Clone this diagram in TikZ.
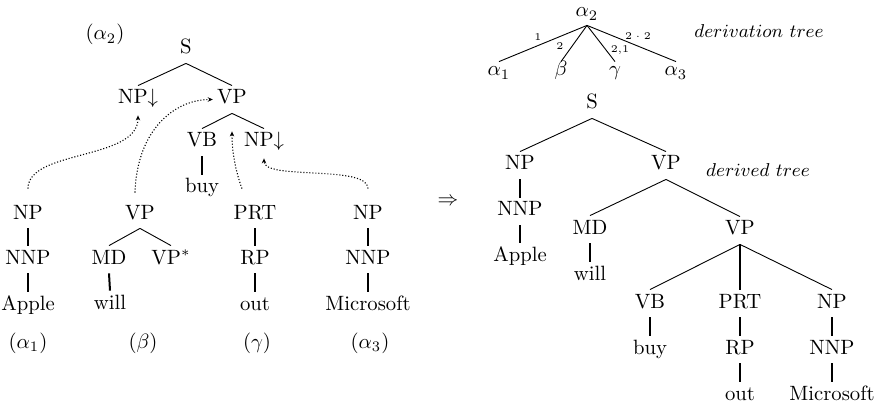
\documentclass[tikz,border=0pt]{standalone}
\usetikzlibrary{arrows.meta}
\tikzset{
  tn/.style={scale=2.07, inner sep=0pt, text height=8.7pt, text depth=4.35pt, anchor=base},
  dn/.style={scale=2.07, inner sep=0pt, text height=6.76pt, text depth=3.86pt, anchor=base},
  lab/.style={scale=2.07, inner sep=0pt, anchor=base},
  el/.style={scale=2.07, font=\tiny, inner sep=0pt},
  it/.style={scale=2.07, font=\small, inner sep=0pt, anchor=base},
  diag/.style={line width=0.9pt},
  vert/.style={line width=2pt},
  darr/.style={line width=1.1pt, dash pattern=on 1.1pt off 1.9pt, -{Stealth[length=5pt,width=4.5pt]}}
}
\begin{document}
\begin{tikzpicture}[x=1pt,y=-1pt]
\useasboundingbox (0,0) rectangle (877,403);
% ---- alpha2 elementary tree
\node[lab] (a2lab) at (105,40) {$(\alpha_2)$};
\node[tn] (aS) at (186,54) {S};
\node[tn] (aNP) at (138,104) {NP$\downarrow$};
\node[tn] (aVP) at (232,104) {VP};
\node[tn] (aVB) at (202,147) {VB};
\node[tn] (aNP2) at (264,147) {NP$\downarrow$};
\node[tn] (abuy) at (202,193) {buy};
\draw[diag] (aS.south) -- (aNP.north);
\draw[diag] (aS.south) -- (aVP.north);
\draw[diag] (aVP.south) -- (aVB.north);
\draw[diag] (aVP.south) -- (aNP2.north);
\draw[vert] (aVB.south) -- (abuy.north);
% ---- alpha1
\node[tn] (b1NP) at (28,219) {NP};
\node[tn] (b1NNP) at (28,264) {NNP};
\node[tn] (b1W) at (28,310) {Apple};
\node[lab] (l1) at (28,348) {$(\alpha_1)$};
\draw[vert] (b1NP.south) -- (b1NNP.north);
\draw[vert] (b1NNP.south) -- (b1W.north);
% ---- beta
\node[tn] (bVP) at (140,219) {VP};
\node[tn] (bMD) at (109,264) {MD};
\node[tn] (bVPs) at (171,264) {VP$^*$};
\node[tn] (bW) at (110,309) {will};
\node[lab] (l2) at (143,348) {$(\beta)$};
\draw[diag] (bVP.south) -- (bMD.north);
\draw[diag] (bVP.south) -- (bVPs.north);
\draw[vert] (bMD.south) -- (bW.north);
% ---- gamma
\node[tn] (cPRT) at (255,219) {PRT};
\node[tn] (cRP) at (255,264) {RP};
\node[tn] (cW) at (255,310) {out};
\node[lab] (l3) at (257,348) {$(\gamma)$};
\draw[vert] (cPRT.south) -- (cRP.north);
\draw[vert] (cRP.south) -- (cW.north);
% ---- alpha3
\node[tn] (dNP) at (368,219) {NP};
\node[tn] (dNNP) at (368,264) {NNP};
\node[tn] (dW) at (368,310) {Microsoft};
\node[lab] (l4) at (370,348) {$(\alpha_3)$};
\draw[vert] (dNP.south) -- (dNNP.north);
\draw[vert] (dNNP.south) -- (dW.north);
% ---- dotted substitution / adjunction arrows
\draw[darr] ([yshift=12pt]b1NP.north) .. controls +(0,-39) and +(0,45) .. ([yshift=-2pt]aNP.south);
\draw[darr] ([xshift=-5pt,yshift=8pt]bVP.north) .. controls +(2,-63) and +(-38,0) .. ([xshift=-4pt]aVP.west);
\draw[darr] ([xshift=-13pt,yshift=12pt]cPRT.north) .. controls +(-7,-19) and +(0,19) .. ([yshift=-18pt]aVP.south);
\draw[darr] ([yshift=12pt]dNP.north) .. controls +(0,-24) and +(0,22) .. ([yshift=-2pt]aNP2.south);
% ---- arrow
\node[scale=2.07, inner sep=0pt] (imp) at (448,202) {$\Rightarrow$};
% ---- derivation tree
\node[dn] (rA2) at (587,17) {$\alpha_2$};
\node[dn] (rA1) at (499,76) {$\alpha_1$};
\node[dn] (rB) at (561,76) {$\beta$};
\node[dn] (rG) at (615,76) {$\gamma$};
\node[dn] (rA3) at (676,76) {$\alpha_3$};
\draw[diag] (rA2.south) -- (rA1.north);
\draw[diag] (rA2.south) -- (rB.north);
\draw[diag] (rA2.south) -- (rG.north);
\draw[diag] (rA2.south) -- (rA3.north);
\node[el] (e1) at (538,37) {1};
\node[el] (e2) at (560,46) {2};
\node[el] (e3) at (620,50) {2,1};
\node[el] (e4) at (638,36) {$2\cdot 2$};
\node[it] (dtl) at (759,38) {$derivation\ tree$};
% ---- derived tree
\node[tn] (rS) at (592,109) {S};
\node[tn] (rNP) at (520,170) {NP};
\node[tn] (rVP) at (666,170) {VP};
\node[tn] (rNNP) at (520,216) {NNP};
\node[tn] (rApple) at (520,261) {Apple};
\node[tn] (rMD) at (590,234) {MD};
\node[tn] (rVP2) at (740,235) {VP};
\node[tn] (rwill) at (590,280) {will};
\node[tn] (rVB) at (650,308) {VB};
\node[tn] (rPRT) at (740,308) {PRT};
\node[tn] (rNP3) at (832,308) {NP};
\node[tn] (rbuy) at (650,354) {buy};
\node[tn] (rRP) at (740,354) {RP};
\node[tn] (rNNP3) at (832,354) {NNP};
\node[tn] (rout) at (740,400) {out};
\node[tn] (rMS) at (832,400) {Microsoft};
\node[it] (dvl) at (758,177) {$derived\ tree$};
\draw[diag] (rS.south) -- (rNP.north);
\draw[diag] (rS.south) -- (rVP.north);
\draw[vert] (rNP.south) -- (rNNP.north);
\draw[vert] (rNNP.south) -- (rApple.north);
\draw[diag] (rVP.south) -- (rMD.north);
\draw[diag] (rVP.south) -- (rVP2.north);
\draw[vert] (rMD.south) -- (rwill.north);
\draw[diag] (rVP2.south) -- (rVB.north);
\draw[vert] (rVP2.south) -- (rPRT.north);
\draw[diag] (rVP2.south) -- (rNP3.north);
\draw[vert] (rVB.south) -- (rbuy.north);
\draw[vert] (rPRT.south) -- (rRP.north);
\draw[vert] (rNP3.south) -- (rNNP3.north);
\draw[vert] (rRP.south) -- (rout.north);
\draw[vert] (rNNP3.south) -- (rMS.north);
\end{tikzpicture}
\end{document}
